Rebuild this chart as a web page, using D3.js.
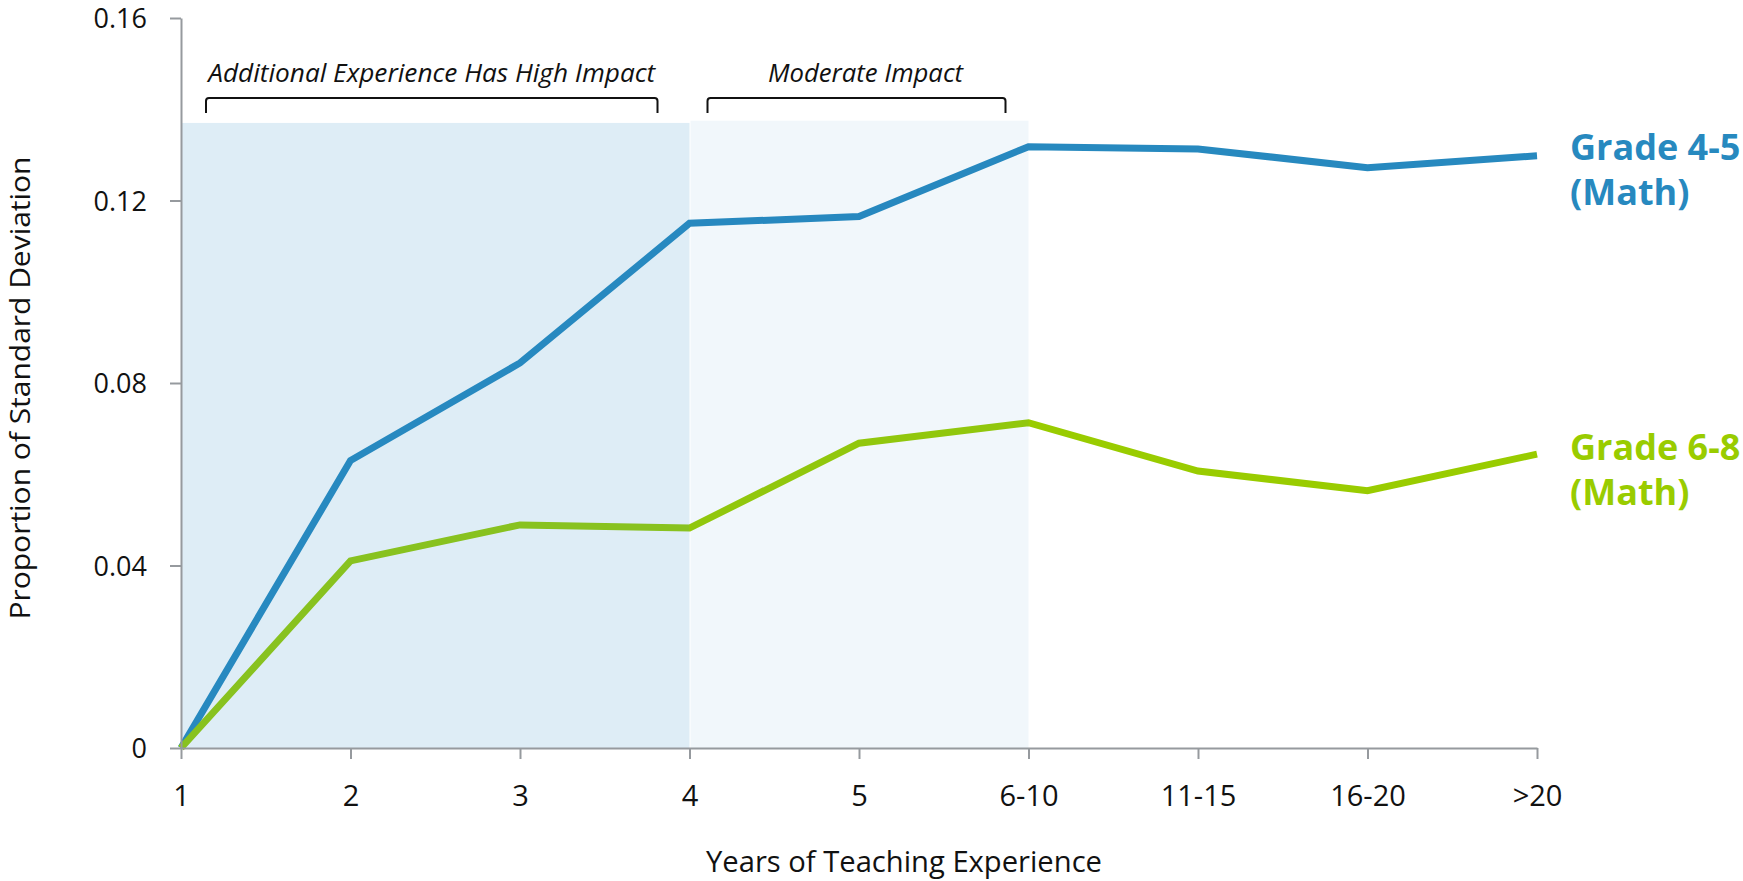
<!DOCTYPE html>
<html>
<head>
<meta charset="utf-8">
<script src="https://cdn.jsdelivr.net/npm/d3@7"></script>
<style>
  html, body { margin: 0; padding: 0; background: #ffffff; }
  svg { display: block; font-family: "Open Sans", "Noto Sans", sans-serif; }
</style>
</head>
<body>
<svg id="chart" width="1743" height="881"></svg>
<script>
// Years of experience buckets (x axis)
const categories = ["1", "2", "3", "4", "5", "6-10", "11-15", "16-20", ">20"];

// Gain in student achievement, proportion of a standard deviation
const grade45Math = [0, 0.063, 0.0844, 0.115, 0.1165, 0.1318, 0.1313, 0.1272, 0.1298];
const grade68Math = [0, 0.041, 0.0489, 0.0482, 0.0668, 0.0713, 0.0607, 0.0564, 0.0644];

const yTicks = [0, 0.04, 0.08, 0.12, 0.16];

// Impact bands shaded over the curves
const bands = [
  { from: "1", to: "4", top: 0.137, label: "Additional Experience Has High Impact", opacity: 0.155 },
  { from: "4", to: "6-10", top: 0.1375, label: "Moderate Impact", opacity: 0.065 }
];

const series = [
  { name: "Grade 4-5", sub: "(Math)", values: grade45Math, color: "#2789bf" },
  { name: "Grade 6-8", sub: "(Math)", values: grade68Math, color: "#99cc00" }
];

const svg = d3.select("#chart");

const x = d3.scalePoint().domain(categories).range([181, 1537]);
const y = d3.scaleLinear().domain([0, 0.16]).range([748, 18]);

const axisColor = "#969a9e";
const textColor = "#111111";

// Curves
const line = d3.line()
  .x((d, i) => x(categories[i]))
  .y(d => y(d));

svg.append("g").selectAll("path")
  .data(series)
  .join("path")
  .attr("d", d => line(d.values))
  .attr("fill", "none")
  .attr("stroke", d => d.color)
  .attr("stroke-width", 7)
  .attr("stroke-linejoin", "miter")
  .attr("stroke-linecap", "butt");

// Translucent band overlays
svg.append("g").selectAll("rect")
  .data(bands)
  .join("rect")
  .attr("x", d => x(d.from) + 1)
  .attr("y", d => y(d.top))
  .attr("width", d => x(d.to) - x(d.from) - 1)
  .attr("height", d => y(0) - y(d.top))
  .attr("fill", "rgb(45,140,195)")
  .attr("fill-opacity", d => d.opacity);

// Brackets with captions above the bands
const bracketY = 98, legY = 113, r = 3;
const bracketSpans = [
  { x0: x("1") + 25, x1: x("4") - 32, tx: 0, width: 447 },
  { x0: x("4") + 18, x1: x("6-10") - 23, tx: 9, width: 195 }
];
const bg = svg.append("g");
bands.forEach((b, i) => {
  const s = bracketSpans[i];
  bg.append("path")
    .attr("d", `M${s.x0},${legY} V${bracketY + r} Q${s.x0},${bracketY} ${s.x0 + r},${bracketY} H${s.x1 - r} Q${s.x1},${bracketY} ${s.x1},${bracketY + r} V${legY}`)
    .attr("fill", "none")
    .attr("stroke", "#111")
    .attr("stroke-width", 2);
  bg.append("text")
    .attr("x", (s.x0 + s.x1) / 2 + s.tx)
    .attr("y", 82)
    .attr("text-anchor", "middle")
    .attr("font-size", 26)
    .attr("font-style", "italic")
    .attr("fill", textColor)
    .attr("textLength", s.width)
    .attr("lengthAdjust", "spacingAndGlyphs")
    .text(b.label);
});

// Y axis
const yAxis = svg.append("g")
  .attr("transform", `translate(${x("1")},0)`)
  .call(d3.axisLeft(y)
    .tickValues(yTicks)
    .tickSize(11)
    .tickSizeOuter(0)
    .tickPadding(23)
    .tickFormat(d => d === 0 ? "0" : d3.format(".2f")(d)));
yAxis.select(".domain").attr("stroke", axisColor).attr("stroke-width", 2);
yAxis.selectAll(".tick line").attr("stroke", axisColor).attr("stroke-width", 2);
yAxis.selectAll(".tick text")
  .attr("font-size", 27)
  .attr("font-family", "'Open Sans', sans-serif")
  .attr("fill", textColor)
  .attr("dy", "0.36em");

// X axis
const xAxis = svg.append("g")
  .attr("transform", `translate(0,${y(0)})`)
  .call(d3.axisBottom(x).tickSize(11).tickSizeOuter(0));
xAxis.select(".domain").attr("stroke", axisColor).attr("stroke-width", 2);
xAxis.selectAll(".tick line").attr("stroke", axisColor).attr("stroke-width", 2);
xAxis.selectAll(".tick text")
  .attr("font-size", 29)
  .attr("font-family", "'Open Sans', sans-serif")
  .attr("fill", textColor)
  .attr("y", 58)
  .attr("dy", 0);

// Axis titles
svg.append("text")
  .attr("transform", "translate(30,388) rotate(-90)")
  .attr("text-anchor", "middle")
  .attr("font-size", 28)
  .attr("fill", textColor)
  .attr("textLength", 463)
  .attr("lengthAdjust", "spacingAndGlyphs")
  .text("Proportion of Standard Deviation");

svg.append("text")
  .attr("x", 904)
  .attr("y", 872)
  .attr("text-anchor", "middle")
  .attr("font-size", 30)
  .attr("fill", textColor)
  .attr("textLength", 396)
  .attr("lengthAdjust", "spacingAndGlyphs")
  .text("Years of Teaching Experience");

// Series labels on the right
const labelBaselines = [160, 460];
series.forEach((s, i) => {
  const t = svg.append("text")
    .attr("x", 1570)
    .attr("y", labelBaselines[i])
    .attr("font-size", 36)
    .attr("font-weight", 700)
    .attr("fill", s.color);
  t.append("tspan").attr("x", 1570).text(s.name);
  t.append("tspan").attr("x", 1570).attr("dy", 45).text(s.sub);
});
</script>
</body>
</html>
